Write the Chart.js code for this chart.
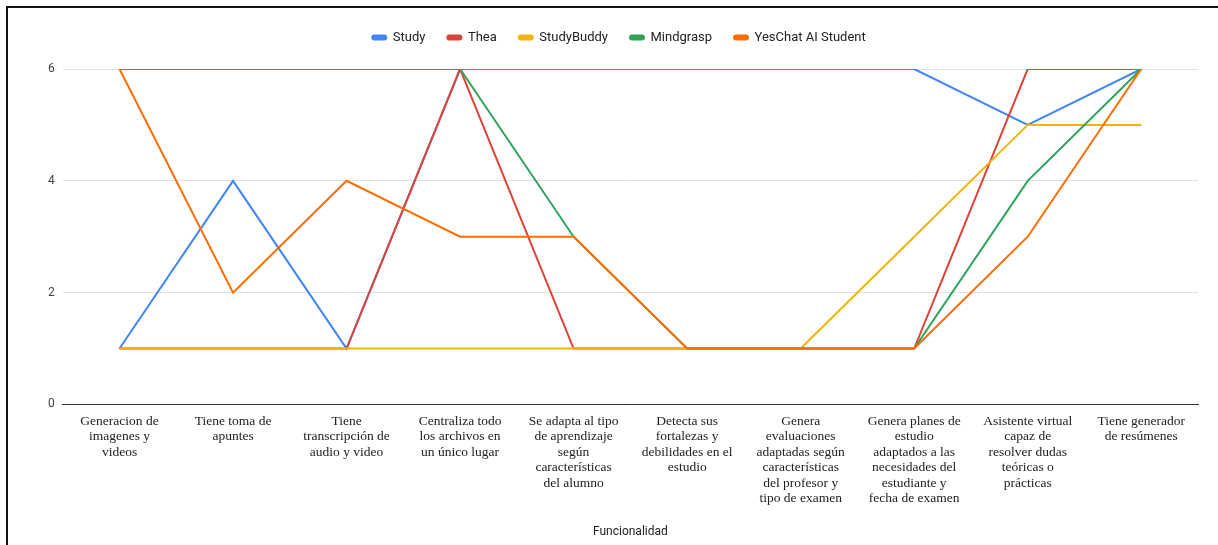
<!DOCTYPE html>
<html>
<head>
<meta charset="utf-8">
<script src="https://cdn.jsdelivr.net/npm/chart.js@4.4.1/dist/chart.umd.min.js"></script>
<style>
  body { margin: 0; background: #fff; }
  #wrap { position: relative; width: 1218px; height: 545px; }
  #frame { position: absolute; left: 6px; top: 6px; right: 0; bottom: 0;
           border-left: 2px solid #111; border-top: 2px solid #111; pointer-events: none; }
</style>
</head>
<body>
<div id="wrap">
  <canvas id="chart1" width="1218" height="545"></canvas>
  <div id="frame"></div>
</div>
<script>
const categories = [
    ['Generacion de', 'imagenes y', 'videos'],
    ['Tiene toma de', 'apuntes'],
    ['Tiene', 'transcripción de', 'audio y video'],
    ['Centraliza todo', 'los archivos en', 'un único lugar'],
    ['Se adapta al tipo', 'de aprendizaje', 'según', 'características', 'del alumno'],
    ['Detecta sus', 'fortalezas y', 'debilidades en el', 'estudio'],
    ['Genera', 'evaluaciones', 'adaptadas según', 'características', 'del profesor y', 'tipo de examen'],
    ['Genera planes de', 'estudio', 'adaptados a las', 'necesidades del', 'estudiante y', 'fecha de examen'],
    ['Asistente virtual', 'capaz de', 'resolver dudas', 'teóricas o', 'prácticas'],
    ['Tiene generador', 'de resúmenes']
];
const study      = [1, 4, 1, 6, 6, 6, 6, 6, 5, 6];
const thea       = [1, 1, 1, 6, 1, 1, 1, 1, 6, 6];
const studyBuddy = [1, 1, 1, 1, 1, 1, 1, 3, 5, 5];
const mindgrasp  = [6, 6, 6, 6, 3, 1, 1, 1, 4, 6];
const yesChat    = [6, 2, 4, 3, 3, 1, 1, 1, 3, 6];
const yTicks = [0, 2, 4, 6];

// later series are painted on top, as in the original sheet
function line(label, data, color, order) {
    return {
        label: label,
        data: data,
        borderColor: color,
        backgroundColor: color,
        borderWidth: 2,
        pointRadius: 0,
        tension: 0,
        order: order
    };
}

// push the plot area down a bit below the legend
const legendSpace = {
    id: 'legendSpace',
    beforeInit(chart) {
        const fit = chart.legend.fit;
        chart.legend.fit = function () {
            fit.bind(chart.legend)();
            this.height += 15;
        };
    }
};

let chart1 = document.getElementById('chart1').getContext('2d');

let lineChart = new Chart(chart1, {
    type: 'line',
    data: {
        labels: categories,
        datasets: [
            line('Study', study, '#4285F4', 5),
            line('Thea', thea, '#DB4437', 4),
            line('StudyBuddy', studyBuddy, '#F4B400', 3),
            line('Mindgrasp', mindgrasp, '#2EA35A', 2),
            line('YesChat AI Student', yesChat, '#FF6D01', 1)
        ]
    },
    options: {
        responsive: false,
        animation: false,
        devicePixelRatio: 1,
        layout: { padding: { top: 9, left: 40, right: 20, bottom: 6 } },
        plugins: {
            legend: {
                labels: {
                    boxWidth: 14,
                    boxHeight: 4,
                    useBorderRadius: true,
                    borderRadius: 2,
                    padding: 22,
                    color: '#222',
                    font: { family: 'Roboto', size: 13 },
                    sort: (a, b) => a.datasetIndex - b.datasetIndex
                }
            },
            tooltip: { enabled: false }
        },
        scales: {
            x: {
                offset: true,
                grid: { display: false },
                border: { display: true, color: '#333', width: 1 },
                ticks: {
                    autoSkip: false,
                    maxRotation: 0,
                    padding: 1,
                    color: '#222',
                    font: { family: 'Liberation Serif', size: 13.5, lineHeight: 1.15 }
                },
                title: {
                    display: true,
                    text: 'Funcionalidad',
                    color: '#222',
                    font: { family: 'Roboto', size: 12 },
                    padding: { top: 17, bottom: 0 }
                }
            },
            y: {
                min: 0,
                max: 6,
                afterBuildTicks(axis) { axis.ticks = yTicks.map(v => ({ value: v })); },
                grid: { color: '#e0e0e0', drawTicks: false },
                border: { display: false },
                ticks: {
                    padding: 8,
                    color: '#444',
                    font: { family: 'Roboto', size: 12 }
                }
            }
        }
    },
    plugins: [legendSpace]
});
</script>
</body>
</html>
